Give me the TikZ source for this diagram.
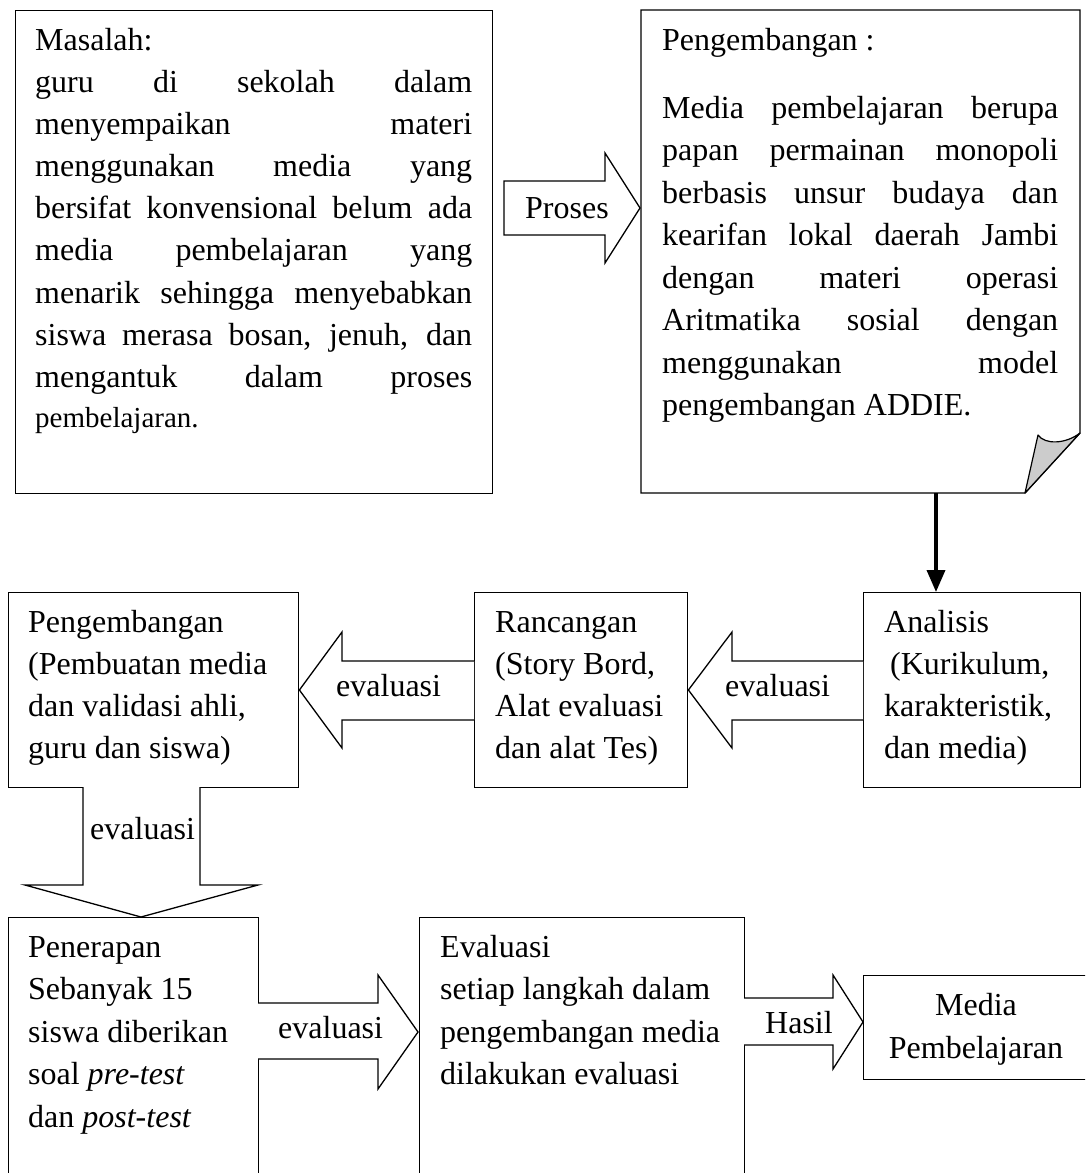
\documentclass[tikz,border=0pt]{standalone}
\usepackage{fontspec}
\setmainfont{Liberation Serif}
\usetikzlibrary{arrows.meta}
\newcommand{\jline}[2]{\makebox[#1][s]{#2}}
\begin{document}
\begin{tikzpicture}[x=1pt,y=-1pt,
  boxline/.style={draw, line width=1.4pt},
  box/.style={boxline, anchor=north west, inner sep=0pt},
  txt/.style={anchor=base west, inner sep=0pt, font=\fontsize{32}{38}\selectfont},
  ctxt/.style={anchor=base, inner sep=0pt, font=\fontsize{32}{38}\selectfont},
  blockarrow/.style={draw, line width=1.3pt, fill=white, line join=miter}
]
\useasboundingbox (0,0) rectangle (1085,1173);
\clip (0,0) rectangle (1085,1173);

% ---------- Boxes ----------
\node[box, minimum width=477pt, minimum height=483pt] (masalah) at (15,10) {};
% Pengembangan box with folded corner
\coordinate (pgA) at (641,10);
\coordinate (pgB) at (1080,10);
\coordinate (pgC) at (1080,433);
\coordinate (pgD) at (1025,493);
\coordinate (pgE) at (641,493);
\coordinate (pgF) at (1038,435);
\draw[boxline, line join=miter] (pgA) -- (pgB) -- (pgC) -- (pgD) -- (pgE) -- cycle;
\draw[line width=1.2pt, fill=black!20, line join=round] (pgD) -- (pgF) .. controls (1045,445) and (1066,444) .. (pgC) -- cycle;

\node[box, minimum width=290pt, minimum height=195pt] (pengem) at (8,592) {};
\node[box, minimum width=213pt, minimum height=195pt] (rancang) at (474,592) {};
\node[box, minimum width=217pt, minimum height=195pt] (analisis) at (863,592) {};

\node[box, minimum width=250pt, minimum height=300pt] (terap) at (8,917) {};
\node[box, minimum width=325pt, minimum height=300pt] (evalbox) at (419,917) {};
\node[box, minimum width=240pt, minimum height=104pt] (mediabox) at (863,975) {};

% ---------- Thick arrow ----------
\coordinate (thk) at (936,493);
\draw[line width=3.6pt, -{Triangle[length=22pt,width=18pt]}] (thk) -- (thk |- analisis.north);

% ---------- Block arrows ----------
% Proses
\draw[blockarrow] (504,181) -- (605,181) -- (605,153) -- (640,208) -- (605,263) -- (605,235) -- (504,235) -- cycle;
\node[txt] (proses) at (525,218) {Proses};
% evaluasi (Rancangan -> Pengembangan)
\draw[blockarrow] (rancang.west |- 0,661) -- (342,661) -- (342,632) -- (pengem.east |- 0,690) -- (342,748) -- (342,720) -- (rancang.west |- 0,720);
\node[txt] (ev1) at (336,696) {evaluasi};
% evaluasi (Analisis -> Rancangan)
\draw[blockarrow] (analisis.west |- 0,661) -- (732,661) -- (732,632) -- (rancang.east |- 0,690) -- (732,748) -- (732,720) -- (analisis.west |- 0,720);
\node[txt] (ev2) at (725,696) {evaluasi};
% evaluasi (Pengembangan -> Penerapan)
\draw[blockarrow] (83,787) -- (83,885) -- (25,885) -- (141,917) -- (258,885) -- (200,885) -- (200,787);
\node[txt] (ev3) at (90,839) {evaluasi};
% evaluasi (Penerapan -> Evaluasi)
\draw[blockarrow] (258,1003) -- (378,1003) -- (378,975) -- (418,1032) -- (378,1089) -- (378,1059) -- (258,1059);
\node[txt] (ev4) at (278,1038) {evaluasi};
% Hasil
\draw[blockarrow] (744,998) -- (833,998) -- (833,975) -- (863,1022) -- (833,1069) -- (833,1045) -- (744,1045);
\node[txt] (hasil) at (765,1033) {Hasil};

% ---------- Masalah text ----------
\node[txt] (m0) at (35,50) {Masalah:};
\node[txt] (m1) at (35,92) {\jline{437pt}{guru di sekolah dalam}};
\node[txt] (m2) at (35,134) {\jline{437pt}{menyempaikan materi}};
\node[txt] (m3) at (35,176) {\jline{437pt}{menggunakan media yang}};
\node[txt] (m4) at (35,218) {\jline{437pt}{bersifat konvensional belum ada}};
\node[txt] (m5) at (35,260) {\jline{437pt}{media pembelajaran yang}};
\node[txt] (m6) at (35,303) {\jline{437pt}{menarik sehingga menyebabkan}};
\node[txt] (m7) at (35,345) {\jline{437pt}{siswa merasa bosan, jenuh, dan}};
\node[txt] (m8) at (35,387) {\jline{437pt}{mengantuk dalam proses}};
\node[txt, font=\fontsize{29}{34}\selectfont] (m9) at (35,427) {pembelajaran.};

% ---------- Pengembangan (top) text ----------
\node[txt] (p0) at (662,50) {Pengembangan :};
\node[txt] (p1) at (662,118) {\jline{396pt}{Media pembelajaran berupa}};
\node[txt] (p2) at (662,160.5) {\jline{396pt}{papan permainan monopoli}};
\node[txt] (p3) at (662,203) {\jline{396pt}{berbasis unsur budaya dan}};
\node[txt] (p4) at (662,245.5) {\jline{396pt}{kearifan lokal daerah Jambi}};
\node[txt] (p5) at (662,288) {\jline{396pt}{dengan materi operasi}};
\node[txt] (p6) at (662,330.5) {\jline{396pt}{Aritmatika sosial dengan}};
\node[txt] (p7) at (662,373) {\jline{396pt}{menggunakan model}};
\node[txt] (p8) at (662,415.5) {pengembangan ADDIE.};

% ---------- Row 2 text ----------
\node[txt] (g0) at (28,632) {Pengembangan};
\node[txt] (g1) at (28,674) {(Pembuatan media};
\node[txt] (g2) at (28,716) {dan validasi ahli,};
\node[txt] (g3) at (28,758) {guru dan siswa)};

\node[txt] (r0) at (495,632) {Rancangan};
\node[txt] (r1) at (495,674) {(Story Bord,};
\node[txt] (r2) at (495,716) {Alat evaluasi};
\node[txt] (r3) at (495,758) {dan alat Tes)};

\node[txt] (a0) at (884,632) {Analisis};
\node[txt] (a1) at (890,674) {(Kurikulum,};
\node[txt] (a2) at (884,716) {karakteristik,};
\node[txt] (a3) at (884,758) {dan media)};

% ---------- Row 3 text ----------
\node[txt] (t0) at (28,957) {Penerapan};
\node[txt] (t1) at (28,999) {Sebanyak 15};
\node[txt] (t2) at (28,1042) {siswa diberikan};
\node[txt] (t3) at (28,1084) {soal \textit{pre-test}};
\node[txt] (t4) at (28,1127) {dan \textit{post-test}};

\node[txt] (e0) at (440,957) {Evaluasi};
\node[txt] (e1) at (440,999) {setiap langkah dalam};
\node[txt] (e2) at (440,1042) {pengembangan media};
\node[txt] (e3) at (440,1084) {dilakukan evaluasi};

\node[ctxt] (md0) at (976,1015) {Media};
\node[ctxt] (md1) at (976,1058) {Pembelajaran};
\end{tikzpicture}
\end{document}
